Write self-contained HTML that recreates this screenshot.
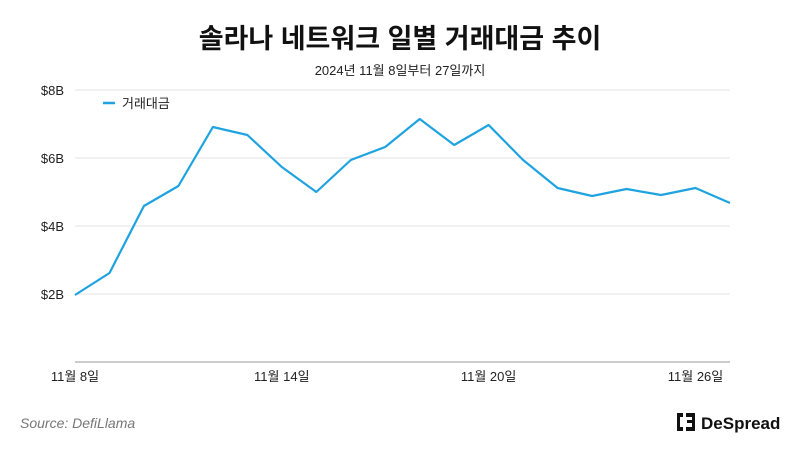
<!DOCTYPE html>
<html><head><meta charset="utf-8"><style>
body{margin:0;background:#fff;width:800px;height:450px;overflow:hidden;font-family:"Liberation Sans","Noto Sans CJK KR",sans-serif}
</style></head><body>
<svg width="800" height="450" xmlns="http://www.w3.org/2000/svg" font-family="Liberation Sans, Noto Sans CJK KR, sans-serif">
<text x="400" y="48" text-anchor="middle" font-size="27" font-weight="bold" fill="#111">솔라나 네트워크 일별 거래대금 추이</text>
<text x="400" y="75" text-anchor="middle" font-size="13" fill="#222">2024년 11월 8일부터 27일까지</text>
<g stroke="#e3e3e3" stroke-width="1">
<line x1="75" y1="90" x2="730" y2="90"/><line x1="75" y1="158" x2="730" y2="158"/>
<line x1="75" y1="226" x2="730" y2="226"/><line x1="75" y1="294" x2="730" y2="294"/>
</g>
<line x1="75" y1="362" x2="730" y2="362" stroke="#999" stroke-width="1"/>
<g font-size="13" fill="#222" text-anchor="end">
<text x="64" y="95">$8B</text><text x="64" y="163">$6B</text><text x="64" y="231">$4B</text><text x="64" y="299">$2B</text>
</g>
<g font-size="13" fill="#222" text-anchor="middle">
<text x="75" y="381">11월 8일</text><text x="281.8" y="381">11월 14일</text><text x="488.6" y="381">11월 20일</text><text x="695.5" y="381">11월 26일</text>
</g>
<line x1="103" y1="103" x2="115" y2="103" stroke="#1ea3e0" stroke-width="2.5"/>
<text x="122" y="108" font-size="13" fill="#222">거래대금</text>
<polyline fill="none" stroke="#1ea3e0" stroke-width="2.2" stroke-linejoin="round" points="75,295 109.5,273 143.9,206 178.4,186 212.9,127 247.4,135 281.8,167 316.3,192 350.8,160 385.2,147 419.7,119 454.2,145 488.6,125 523.1,160 557.6,188 592.1,196 626.5,189 661,195 695.5,188 730,203"/>
<text x="20" y="428" font-size="14" font-style="italic" fill="#777">Source: DefiLlama</text>
<g fill="#111">
<rect x="677" y="413" width="6" height="4"/><rect x="677" y="413" width="3" height="18"/><rect x="677" y="427" width="6" height="4"/>
<rect x="686" y="413" width="9" height="4"/><rect x="692" y="413" width="3" height="18"/><rect x="686" y="427" width="9" height="4"/><rect x="687" y="420" width="6" height="3"/>
</g>
<text x="701" y="429" font-size="17" font-weight="bold" fill="#111">DeSpread</text>
</svg>
</body></html>
